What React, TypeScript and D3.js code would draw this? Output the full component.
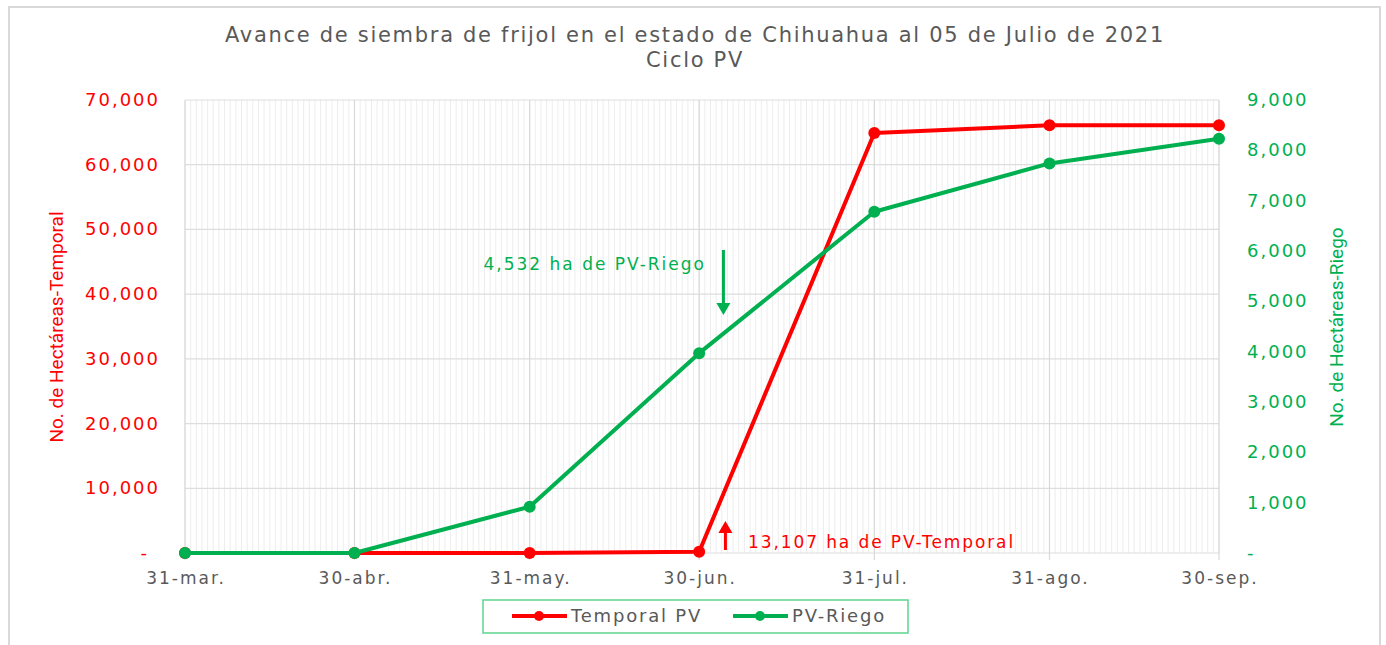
import { useRef, useEffect } from 'react';
import * as d3 from 'd3';

const dateLabels = ['31-mar.', '30-abr.', '31-may.', '30-jun.', '31-jul.', '31-ago.', '30-sep.'];
const dates = ['2021-03-31', '2021-04-30', '2021-05-31', '2021-06-30', '2021-07-31', '2021-08-31', '2021-09-30'];
const temporal = [0, 0, 0, 200, 64900, 66100, 66100];
const riego = [0, 0, 920, 3970, 6780, 7740, 8230];
const leftTicks = [0, 10000, 20000, 30000, 40000, 50000, 60000, 70000];
const rightTicks = [0, 1000, 2000, 3000, 4000, 5000, 6000, 7000, 8000, 9000];
const cutDate = '2021-07-05';
const riegoNote = '4,532 ha de PV-Riego';
const temporalNote = '13,107 ha de PV-Temporal';

const RED = '#ff0000';
const GREEN = '#00b050';
const GRAY = '#595959';
const FONT = '"DejaVu Sans", sans-serif';
const NARROW = '"Liberation Sans Narrow", Roboto, sans-serif';

const parse = d3.utcParse('%Y-%m-%d');
const fmt = (v: number) => (v === 0 ? '-' : d3.format(',')(v));

export default function App() {
  const svgRef = useRef<SVGSVGElement>(null);

  useEffect(() => {
    const svg = d3.select(svgRef.current);
    svg.selectAll('*').remove();

    const x = d3.scaleUtc().domain([parse(dates[0])!, parse(dates[dates.length - 1])!]).range([185, 1219]);
    const yL = d3.scaleLinear().domain([0, 70000]).range([553, 100]);
    const yR = d3.scaleLinear().domain([0, 9000]).range([553, 100]);

    // outer frame
    svg.append('rect').attr('x', 9).attr('y', 7).attr('width', 1371).attr('height', 660)
      .attr('fill', '#fff').attr('stroke', '#d9d9d9').attr('stroke-width', 2);

    // title
    const title = svg.append('text').attr('text-anchor', 'middle').attr('fill', GRAY)
      .attr('font-family', FONT).attr('font-size', 21).attr('letter-spacing', 1.7);
    title.append('tspan').attr('x', 695).attr('y', 42)
      .text('Avance de siembra de frijol en el estado de Chihuahua al 05 de Julio de 2021');
    title.append('tspan').attr('x', 695).attr('y', 67).text('Ciclo PV');

    const g = svg.append('g');

    // daily minor grid
    const days = d3.utcDay.range(x.domain()[0], d3.utcDay.offset(x.domain()[1], 1));
    g.append('g').selectAll('line').data(days).join('line')
      .attr('x1', d => x(d)).attr('x2', d => x(d)).attr('y1', 100).attr('y2', 553)
      .attr('stroke', '#ebebeb').attr('stroke-width', 0.9);

    // horizontal grid
    g.append('g').selectAll('line').data(leftTicks).join('line')
      .attr('x1', 185).attr('x2', 1219).attr('y1', d => yL(d)).attr('y2', d => yL(d))
      .attr('stroke', '#dddddd').attr('stroke-width', 1.2);

    // monthly major grid + ticks
    g.append('g').selectAll('line').data(dates).join('line')
      .attr('x1', d => x(parse(d)!)).attr('x2', d => x(parse(d)!)).attr('y1', 100).attr('y2', 560)
      .attr('stroke', '#d9d9d9').attr('stroke-width', 1.2);

    // x labels
    g.append('g').selectAll('text').data(dateLabels).join('text')
      .attr('x', (_, i) => x(parse(dates[i])!) + 1).attr('y', 584).attr('text-anchor', 'middle')
      .attr('fill', GRAY).attr('font-family', FONT).attr('font-size', 17).attr('letter-spacing', 2)
      .text(d => d);

    // left axis labels
    g.append('g').selectAll('text').data(leftTicks).join('text')
      .attr('x', d => (d === 0 ? 149 : 160)).attr('y', d => yL(d) + 6).attr('text-anchor', 'end')
      .attr('fill', RED).attr('font-family', FONT).attr('font-size', 18).attr('letter-spacing', 2)
      .text(fmt);

    // right axis labels
    g.append('g').selectAll('text').data(rightTicks).join('text')
      .attr('x', 1247).attr('y', d => yR(d) + 6).attr('text-anchor', 'start')
      .attr('fill', GREEN).attr('font-family', FONT).attr('font-size', 18).attr('letter-spacing', 2)
      .text(fmt);

    // axis titles
    svg.append('text').attr('transform', 'translate(63,327) rotate(-90)').attr('text-anchor', 'middle')
      .attr('fill', RED).attr('font-family', NARROW).attr('font-size', 19)
      .text('No. de Hectáreas-Temporal');
    svg.append('text').attr('transform', 'translate(1343,327) rotate(-90)').attr('text-anchor', 'middle')
      .attr('fill', GREEN).attr('font-family', NARROW).attr('font-size', 19)
      .text('No. de Hectáreas-Riego');

    // series
    const series = [
      { vals: temporal, y: yL, color: RED },
      { vals: riego, y: yR, color: GREEN },
    ];
    series.forEach(s => {
      const pts = s.vals.map((v, i) => [x(parse(dates[i])!), s.y(v)] as [number, number]);
      g.append('path').attr('d', d3.line()(pts)).attr('fill', 'none')
        .attr('stroke', s.color).attr('stroke-width', 4).attr('stroke-linejoin', 'round');
      g.append('g').selectAll('circle').data(pts).join('circle')
        .attr('cx', d => d[0]).attr('cy', d => d[1]).attr('r', 6).attr('fill', s.color);
    });

    // annotations
    const ax = x(parse(cutDate)!);
    const arrow = (x0: number, yFrom: number, yTo: number, color: string) => {
      const dir = yTo > yFrom ? 1 : -1;
      g.append('line').attr('x1', x0).attr('x2', x0).attr('y1', yFrom).attr('y2', yTo - dir * 10)
        .attr('stroke', color).attr('stroke-width', 3);
      g.append('path')
        .attr('d', `M${x0 - 7},${yTo - dir * 12}L${x0 + 7},${yTo - dir * 12}L${x0},${yTo}Z`)
        .attr('fill', color);
    };
    arrow(ax - 4, 250, 315, GREEN);
    arrow(ax - 2, 550, 521, RED);
    g.append('text').attr('x', 706).attr('y', 270).attr('text-anchor', 'end')
      .attr('fill', GREEN).attr('font-family', FONT).attr('font-size', 17).attr('letter-spacing', 2)
      .text(riegoNote);
    g.append('text').attr('x', 748).attr('y', 548).attr('text-anchor', 'start')
      .attr('fill', RED).attr('font-family', FONT).attr('font-size', 17).attr('letter-spacing', 1.9)
      .text(temporalNote);

    // legend
    const leg = svg.append('g');
    leg.append('rect').attr('x', 483).attr('y', 600).attr('width', 425).attr('height', 33)
      .attr('fill', '#fff').attr('stroke', '#5fd38d').attr('stroke-width', 1.5);
    [{ name: 'Temporal PV', color: RED, x0: 512 }, { name: 'PV-Riego', color: GREEN, x0: 733 }].forEach(it => {
      leg.append('line').attr('x1', it.x0).attr('x2', it.x0 + 55).attr('y1', 616).attr('y2', 616)
        .attr('stroke', it.color).attr('stroke-width', 4);
      leg.append('circle').attr('cx', it.x0 + 27).attr('cy', 616).attr('r', 5).attr('fill', it.color);
      leg.append('text').attr('x', it.x0 + 59).attr('y', 622).attr('fill', GRAY)
        .attr('font-family', FONT).attr('font-size', 18).attr('letter-spacing', 1.8).text(it.name);
    });
  }, []);

  return (
    <div style={{ position: 'fixed', left: 0, top: 0, width: 1386, height: 645, background: '#fff' }}>
      <svg ref={svgRef} width={1386} height={645} />
    </div>
  );
}
